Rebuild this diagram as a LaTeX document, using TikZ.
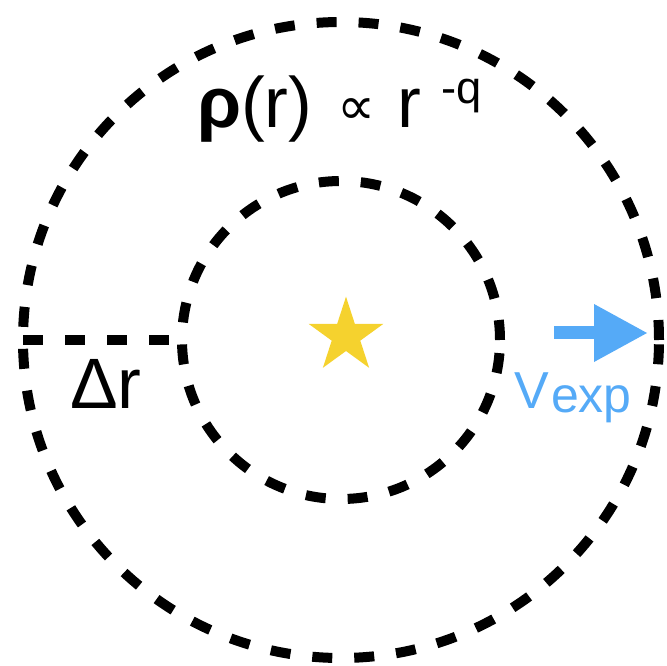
\documentclass[tikz,border=0pt]{standalone}
\usepackage{fontspec}
\setmainfont{Liberation Sans}
\newfontfamily\djv{DejaVu Sans}
\usetikzlibrary{shapes.geometric,arrows.meta}
\definecolor{vblue}{HTML}{55AAF7}
\definecolor{staryellow}{HTML}{F5D22E}
\begin{document}
\begin{tikzpicture}[x=0.75pt,y=-0.75pt,
  ring/.style={circle,draw=black,line width=7.5pt,dash pattern=on 15pt off 16.5pt,inner sep=0pt,outer sep=0pt},
  dline/.style={draw=black,line width=7.5pt,dash pattern=on 15pt off 16.5pt},
  lbl/.style={inner sep=0pt,outer sep=0pt,anchor=base west},
  big/.style={font=\fontsize{53.5pt}{60pt}\selectfont}]
\useasboundingbox (0,0) rectangle (667,666);
\node[ring,minimum size=477pt] (outer) at (341,340) {};
\node[ring,minimum size=238.5pt] (inner) at (341,340) {};
\draw[dline] (outer.west) -- (inner.west);
\node[star,star points=5,star point ratio=2.618,fill=staryellow,minimum size=59pt,inner sep=0pt] (star) at (346,336) {};
\node[lbl,big] (rho) at (197,128) {\textbf{ρ}(r)};
\node[lbl,font=\djv\fontsize{40pt}{45pt}\selectfont] (prop) at (337,125) {∝};
\node[lbl,big] (r) at (397,128) {r};
\node[lbl,font=\fontsize{34pt}{40pt}\selectfont] (q) at (441,104) {-q};
\node[lbl,big] (dr) at (70,408) {Δr};
\node[lbl,text=vblue,font=\fontsize{39pt}{45pt}\selectfont] (V) at (514,408) {V};
\node[lbl,text=vblue,font=\fontsize{37.5pt}{45pt}\selectfont] (vexp) at (551,412) {exp};
\coordinate (a1) at (554,333);
\coordinate (a2) at (648,333);
\draw[vblue,line width=9.75pt,-{Triangle[length=40.5pt,width=40.5pt]}] (a1) -- (a2);
\end{tikzpicture}
\end{document}
